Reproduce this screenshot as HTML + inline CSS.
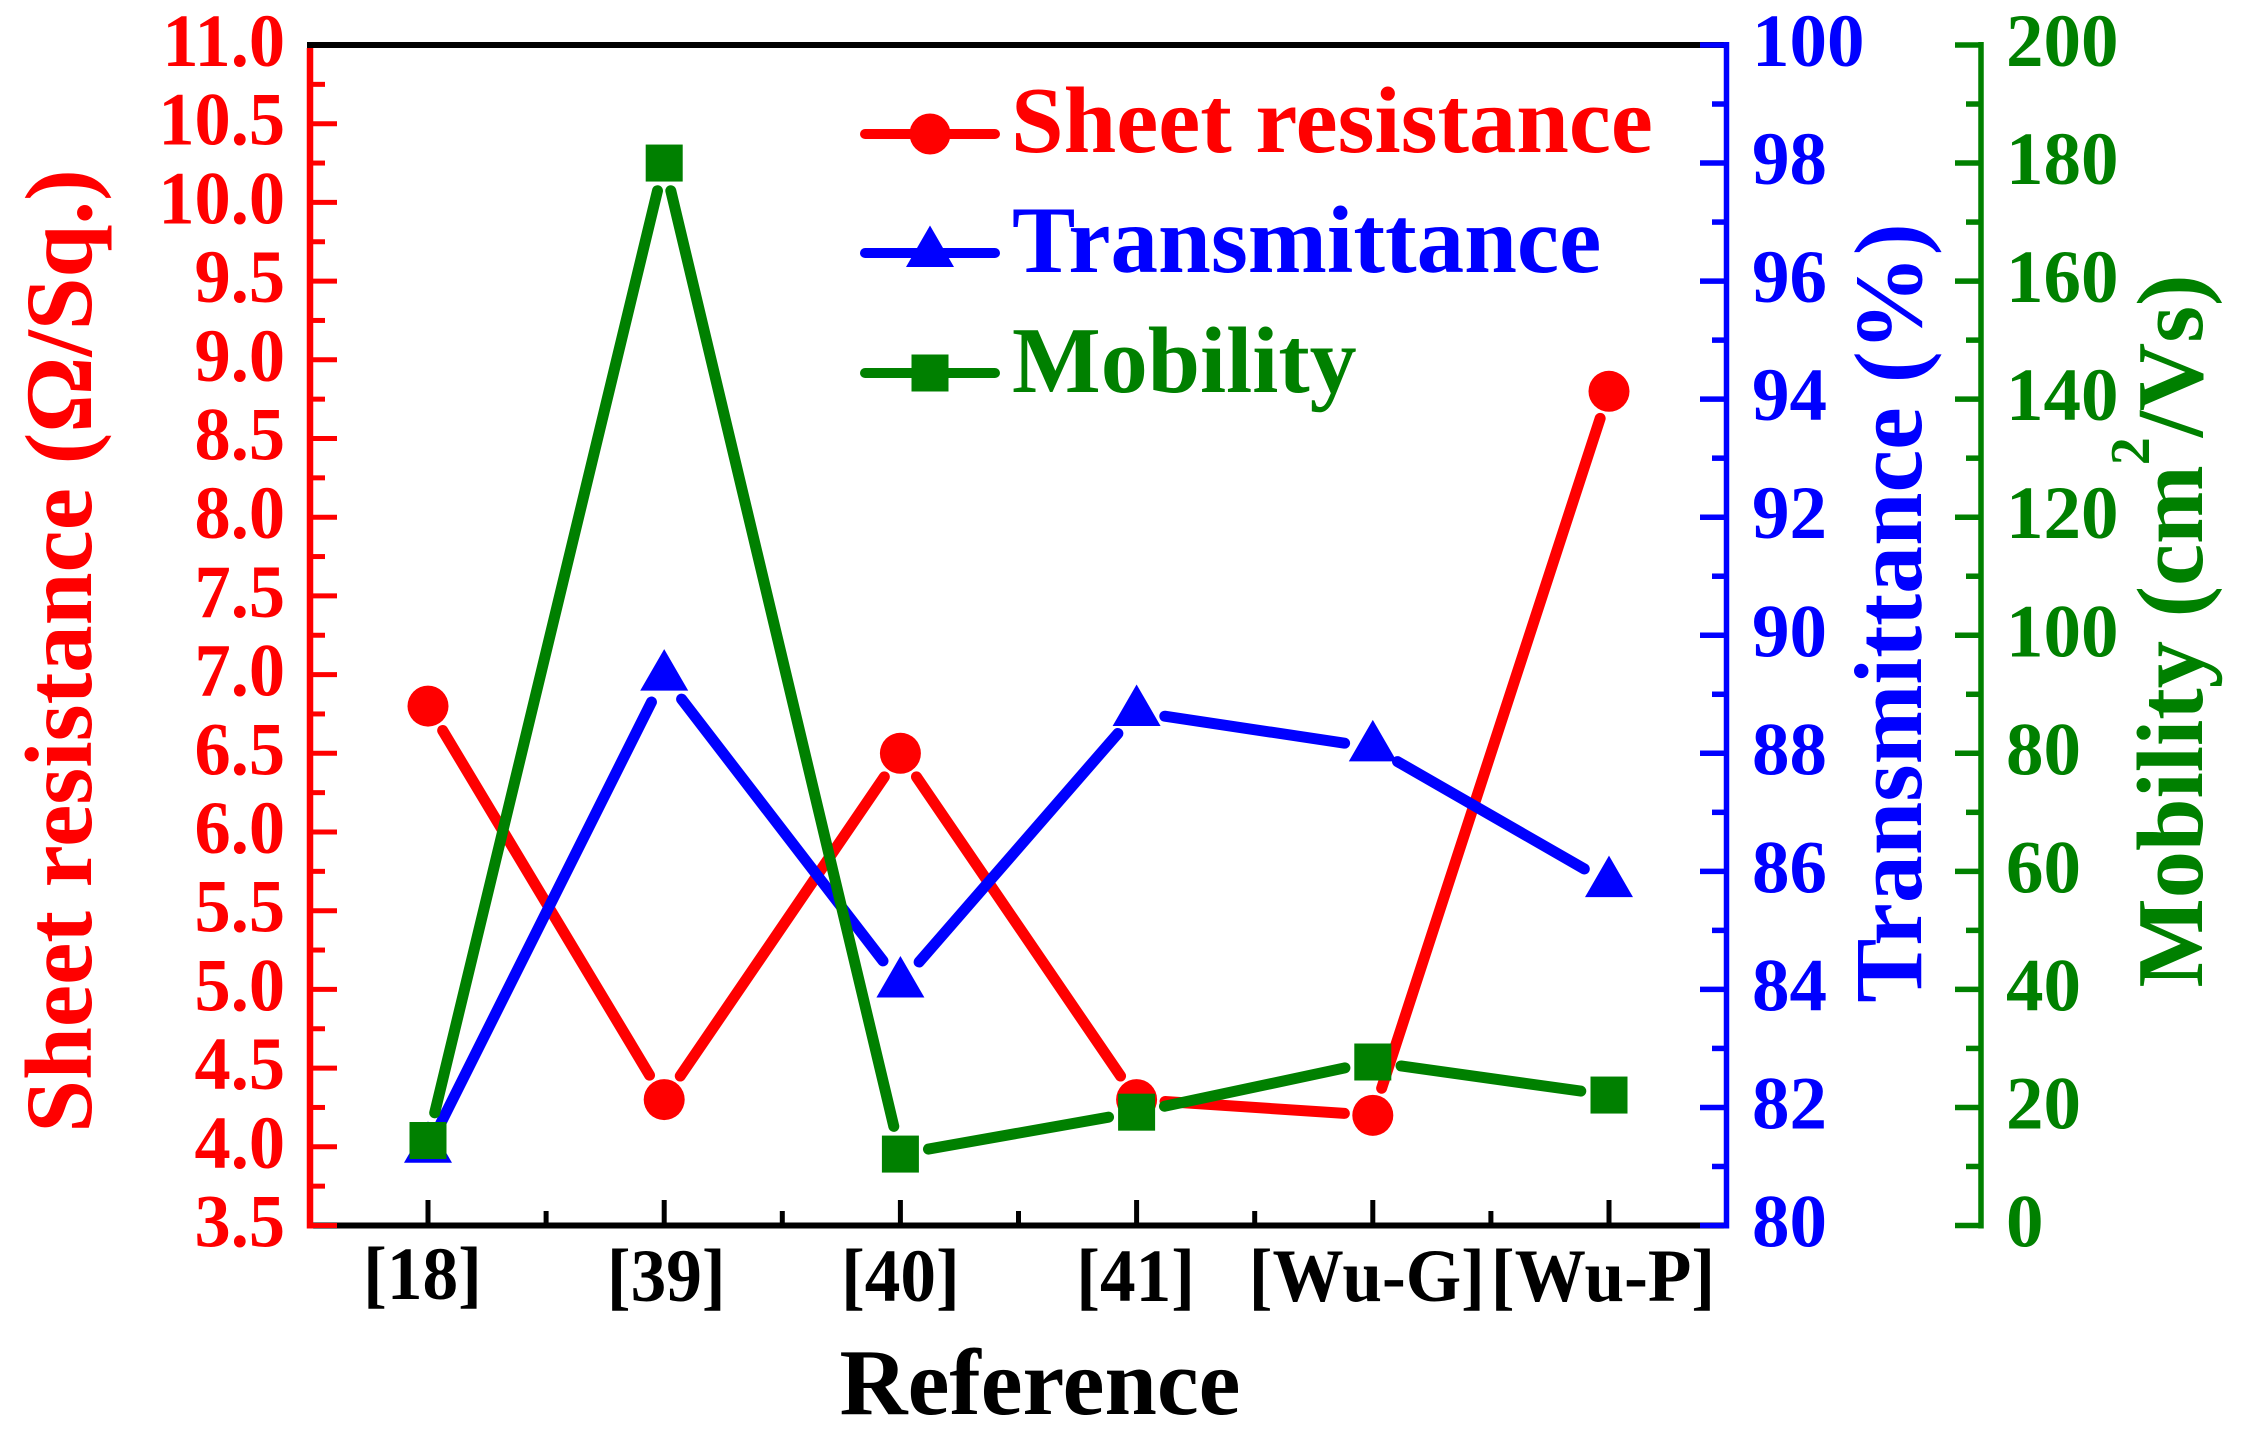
<!DOCTYPE html>
<html lang="en">
<head>
<meta charset="utf-8">
<title>Sheet resistance, transmittance and mobility by reference</title>
<style>
html,body{margin:0;padding:0;background:#fff;}
svg{display:block;}
text{font-family:"Liberation Serif",serif;font-weight:bold;}
</style>
</head>
<body>
<svg id="chart" xmlns="http://www.w3.org/2000/svg" width="2253" height="1437" viewBox="0 0 2253 1437">
  <rect x="0" y="0" width="2253" height="1437" fill="#fff"/>
  <g id="axes"></g>
  <g id="series"></g>

  <text transform="translate(91,651) rotate(-90)" text-anchor="middle" font-size="95" fill="#ff0000">Sheet resistance (Ω/Sq.)</text>
  <text transform="translate(1921,613) rotate(-90)" text-anchor="middle" font-size="96" fill="#0000ff">Transmittance (%)</text>
  <text transform="translate(2202,631) rotate(-90)" text-anchor="middle" font-size="94.5" fill="#008000">Mobility (cm<tspan font-size="56" dy="-53">2</tspan><tspan dy="53">/Vs)</tspan></text>
  <text x="1040" y="1414" text-anchor="middle" font-size="94.2" fill="#000">Reference</text>

  <g>
    <g>
      <line x1="865" y1="134" x2="995" y2="134" stroke="#ff0000" stroke-width="10" stroke-linecap="round"/>
      <circle cx="930" cy="134" r="20.5" fill="#ff0000"/>
      <text x="1011" y="152" font-size="94.6" fill="#ff0000">Sheet resistance</text>
    </g>
    <g>
      <line x1="865" y1="253" x2="995" y2="253" stroke="#0000ff" stroke-width="10" stroke-linecap="round"/>
      <polygon points="930,225.5 954,267 906,267" fill="#0000ff"/>
      <text x="1012" y="272" font-size="95" fill="#0000ff">Transmittance</text>
    </g>
    <g>
      <line x1="865" y1="373" x2="995" y2="373" stroke="#008000" stroke-width="10" stroke-linecap="round"/>
      <rect x="911.5" y="354.5" width="37" height="37" fill="#008000"/>
      <text x="1012" y="392" font-size="94" fill="#008000">Mobility</text>
    </g>
  </g>
</svg>
<script>
// ---- chart data ----
const categories = ['[18]', '[39]', '[40]', '[41]', '[Wu-G]', '[Wu-P]'];
const sheetResistance = [6.8, 4.3, 6.5, 4.3, 4.2, 8.8];
const transmittance = [81.3, 89.3, 84.1, 88.7, 88.1, 85.8];
const mobility = [14.4, 180, 12.1, 19.2, 27.7, 22.1];
const resistanceTicks = ['3.5','4.0','4.5','5.0','5.5','6.0','6.5','7.0','7.5','8.0','8.5','9.0','9.5','10.0','10.5','11.0'];
const transmittanceTicks = ['80','82','84','86','88','90','92','94','96','98','100'];
const mobilityTicks = ['0','20','40','60','80','100','120','140','160','180','200'];

// ---- layout ----
const NS = 'http://www.w3.org/2000/svg';
const RED = '#ff0000', BLUE = '#0000ff', GREEN = '#008000';
const TOP = 45, BOTTOM = 1225.5;
const LEFT = 310, RIGHT = 1726.5, GREEN_AXIS = 1981;
const GAP = 28.5;

function scaleY(min, max) { return v => BOTTOM - (v - min) / (max - min) * (BOTTOM - TOP); }
function xIndex(i) { return 428 + 236.2 * i; }
const yRes = scaleY(3.5, 11);
const yTrans = scaleY(80, 100);
const yMob = scaleY(0, 200);

const axes = document.getElementById('axes');
const seriesGroup = document.getElementById('series');

function mk(tag, parent, attrs, text) {
  const el = document.createElementNS(NS, tag);
  for (const k in attrs) el.setAttribute(k, attrs[k]);
  if (text !== undefined) el.textContent = text;
  parent.appendChild(el);
  return el;
}

function axisLine(x1, y1, x2, y2, color, w, name) {
  const el = mk('line', axes, {x1, y1, x2, y2, stroke: color, 'stroke-width': w});
  
  
  return el;
}

function tickLabel(x, y, anchor, color, str, name, sx) {
  const el = mk('text', axes, {
    transform: 'translate(' + x + ',' + y + ') scale(' + sx + ',1)',
    'text-anchor': anchor, 'font-size': 75, fill: color
  }, str);
  
  
  return el;
}

// bottom frame (red and blue axes paint over its ends)
axisLine(LEFT - 3, BOTTOM, RIGHT, BOTTOM, '#000', 6, 'x-axis-line');

// x ticks + labels
categories.forEach((c, i) => {
  const x = xIndex(i);
  axisLine(x, 1200, x, BOTTOM, '#000', 5, 'x-major-tick');
  if (i < categories.length - 1) {
    axisLine(x + 118.1, 1211, x + 118.1, BOTTOM, '#000', 5, 'x-minor-tick');
  }
  // the reference labels sit slightly off their ticks and run narrower than Liberation Serif
  const shift = c.length > 4 ? -6 : (c === '[18]' ? -5.5 : (c === '[39]' ? 2 : (c === '[41]' ? -1 : 0)));
  const base = c === '[18]' ? 1299 : 1301;
  tickLabel(x + shift, base, 'middle', '#000', c, 'x-tick-label', 0.95);
});

// left red axis
axisLine(LEFT, TOP + 3, LEFT, BOTTOM + 3, RED, 6.5, 'left-y-axis-line');
resistanceTicks.forEach((t, i) => {
  const v = parseFloat(t), y = yRes(v);
  axisLine(LEFT - 3, y, 337, y, RED, 5, 'left-major-tick');
  if (i < resistanceTicks.length - 1) {
    axisLine(LEFT, yRes(v + 0.25), 325, yRes(v + 0.25), RED, 5, 'left-minor-tick');
  }
  tickLabel(285, y + 21, 'end', RED, t, 'left-tick-label', 0.965);
});

// top frame paints over the red axis but under the blue one
axisLine(LEFT - 3, TOP, RIGHT, TOP, '#000', 6, 'top-frame-line');

// right blue axis
axisLine(RIGHT, TOP - 3, RIGHT, BOTTOM + 3, BLUE, 5.5, 'blue-y-axis-line');
transmittanceTicks.forEach((t, i) => {
  const v = parseFloat(t), y = yTrans(v);
  axisLine(1700, y, RIGHT, y, BLUE, 5.5, 'blue-major-tick');
  if (i < transmittanceTicks.length - 1) {
    axisLine(1712, yTrans(v + 1), RIGHT, yTrans(v + 1), BLUE, 5.5, 'blue-minor-tick');
  }
  tickLabel(1752, y + 21, 'start', BLUE, t, 'blue-tick-label', 1);
});

// far right green axis
axisLine(GREEN_AXIS, TOP - 3, GREEN_AXIS, BOTTOM + 3, GREEN, 5.5, 'green-y-axis-line');
mobilityTicks.forEach((t, i) => {
  const v = parseFloat(t), y = yMob(v);
  axisLine(1955, y, GREEN_AXIS, y, GREEN, 5.5, 'green-major-tick');
  if (i < mobilityTicks.length - 1) {
    axisLine(1966, yMob(v + 10), GREEN_AXIS, yMob(v + 10), GREEN, 5.5, 'green-minor-tick');
  }
  tickLabel(2006, y + 21, 'start', GREEN, t, 'green-tick-label', 1);
});

// series
function drawSeries(values, yFn, color, key, marker) {
  const pts = values.map((v, i) => [xIndex(i), yFn(v)]);
  for (let i = 0; i < pts.length - 1; i++) {
    const [x0, y0] = pts[i], [x1, y1] = pts[i + 1];
    const d = Math.hypot(x1 - x0, y1 - y0);
    if (d <= GAP * 2) continue;
    const ux = (x1 - x0) / d, uy = (y1 - y0) / d;
    const seg = mk('line', seriesGroup, {
      x1: x0 + ux * GAP, y1: y0 + uy * GAP,
      x2: x1 - ux * GAP, y2: y1 - uy * GAP,
      stroke: color, 'stroke-width': 11, 'stroke-linecap': 'round'
    });
    
    
  }
  pts.forEach(([x, y]) => {
    const m = marker(x, y);
    
    
  });
}

drawSeries(sheetResistance, yRes, RED, 'sheet-resistance',
  (x, y) => mk('circle', seriesGroup, {cx: x, cy: y, r: 20.5, fill: RED}));
drawSeries(transmittance, yTrans, BLUE, 'transmittance',
  (x, y) => mk('polygon', seriesGroup, {
    points: x + ',' + (y - 27.5) + ' ' + (x + 24) + ',' + (y + 14) + ' ' + (x - 24) + ',' + (y + 14),
    fill: BLUE
  }));
drawSeries(mobility, yMob, GREEN, 'mobility',
  (x, y) => mk('rect', seriesGroup, {x: x - 18.5, y: y - 18.5, width: 37, height: 37, fill: GREEN}));
</script>
</body>
</html>
